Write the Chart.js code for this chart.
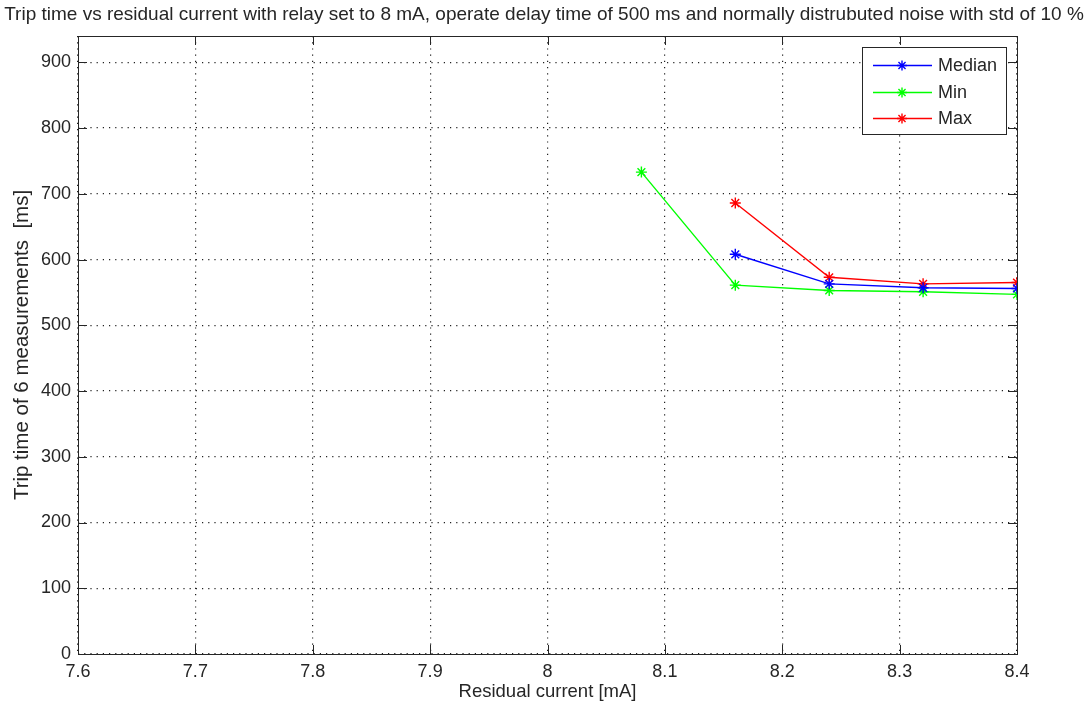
<!DOCTYPE html>
<html>
<head>
<meta charset="utf-8">
<script src="https://cdn.jsdelivr.net/npm/chart.js@4/dist/chart.umd.min.js"></script>
<style>
  html, body { margin: 0; padding: 0; background: #fff; }
  #wrap { width: 1088px; height: 706px; }
</style>
</head>
<body>
<div id="wrap"><canvas id="tripChart"></canvas></div>
<script>
// ── data ──
const currents = [8.08, 8.16, 8.24, 8.32, 8.4];          // residual current [mA]
const medianMs = [null, 608, 563, 557, 556];
const minMs    = [733, 561, 553, 551, 547];
const maxMs    = [null, 686, 573, 563, 565];
const seriesNames  = ["Median", "Min", "Max"];
const seriesColors = ["#0000ff", "#00ff00", "#ff0000"];

const xMin = 7.6, xMax = 8.4, xStep = 0.1;
const yMin = 0, yMax = 940, yStep = 100;

const titleText = "Trip time vs residual current with relay set to 8 mA, operate delay time of 500 ms and normally distrubuted noise with std of 10 %";
const FONT = "'Liberation Sans', Arial, sans-serif";
const INK  = "#262626";

const toPts = arr => currents.map((x, i) => ({ x, y: arr[i] })).filter(p => p.y !== null);

const datasets = [medianMs, minMs, maxMs].map((arr, i) => ({
  label: seriesNames[i],
  data: toPts(arr),
  borderColor: seriesColors[i],
  backgroundColor: seriesColors[i],
  borderWidth: 1.4,
  pointStyle: "star",
  pointRadius: 5.5,
  pointBorderWidth: 1.4,
  pointHoverRadius: 5.5,
  tension: 0
}));

// title, frame, inward ticks and boxed legend (MATLAB look)
const matlabAxes = {
  id: "matlabAxes",
  afterDraw(chart) {
    const { ctx, chartArea: a, scales } = chart;
    const tl = 9;
    ctx.save();

    // title centred on the whole figure, like MATLAB does
    ctx.fillStyle = INK;
    ctx.font = "19px " + FONT;
    ctx.textAlign = "center";
    ctx.textBaseline = "middle";
    ctx.fillText(titleText, chart.width / 2, 15);

    ctx.strokeStyle = INK;
    ctx.lineWidth = 1;
    ctx.beginPath();
    scales.x.ticks.forEach(t => {
      const px = Math.round(scales.x.getPixelForValue(t.value)) + 0.5;
      ctx.moveTo(px, a.bottom); ctx.lineTo(px, a.bottom - tl);
      ctx.moveTo(px, a.top);    ctx.lineTo(px, a.top + tl);
    });
    scales.y.ticks.forEach(t => {
      const py = Math.round(scales.y.getPixelForValue(t.value)) + 0.5;
      ctx.moveTo(a.left, py);  ctx.lineTo(a.left + tl, py);
      ctx.moveTo(a.right, py); ctx.lineTo(a.right - tl, py);
    });
    ctx.stroke();
    ctx.strokeRect(Math.round(a.left) + 0.5, Math.round(a.top) + 0.5,
                   Math.round(a.right - a.left), Math.round(a.bottom - a.top));

    // legend box
    const bx = a.right - 155, by = a.top + 11, bw = 144, bh = 87;
    ctx.fillStyle = "#fff";
    ctx.fillRect(bx, by, bw, bh);
    ctx.strokeRect(Math.round(bx) + 0.5, Math.round(by) + 0.5, bw, bh);
    ctx.font = "18px " + FONT;
    ctx.textBaseline = "middle";
    ctx.textAlign = "left";
    chart.data.datasets.forEach((ds, i) => {
      const y = Math.round(by + 18 + i * 26.5) + 0.5;
      ctx.strokeStyle = ds.borderColor;
      ctx.lineWidth = 1.4;
      ctx.beginPath();
      ctx.moveTo(bx + 11, y);
      ctx.lineTo(bx + 70, y);
      ctx.stroke();
      Chart.helpers.drawPoint(ctx, { pointStyle: "star", radius: 5, borderWidth: 1.4 }, bx + 40, y);
      ctx.fillStyle = INK;
      ctx.fillText(ds.label, bx + 76, y + 1);
    });
    ctx.restore();
  }
};

new Chart(document.getElementById("tripChart"), {
  type: "line",
  data: { datasets },
  plugins: [matlabAxes],
  options: {
    responsive: true,
    maintainAspectRatio: false,
    animation: false,
    layout: { padding: { top: 36, right: 71, bottom: 0, left: 0 } },
    plugins: {
      legend: { display: false },
      tooltip: { enabled: false },
      title: { display: false }
    },
    scales: {
      x: {
        type: "linear",
        min: xMin, max: xMax,
        afterFit: s => { s.height = 52; },
        ticks: {
          stepSize: xStep,
          color: INK,
          padding: 7,
          maxRotation: 0,
          font: { family: FONT, size: 18 },
          callback: v => String(Number(v.toFixed(1)))
        },
        grid: { color: "#222", lineWidth: 1.2, drawTicks: false },
        border: { display: false, dash: [1.2, 5] },
        title: {
          display: true,
          text: "Residual current [mA]",
          color: INK,
          font: { family: FONT, size: 18.5 },
          padding: { top: 0, bottom: 3 }
        }
      },
      y: {
        type: "linear",
        min: yMin, max: yMax,
        afterFit: s => { s.width = 78; },
        ticks: {
          stepSize: yStep,
          includeBounds: false,
          color: INK,
          padding: 7,
          font: { family: FONT, size: 18 }
        },
        grid: { color: "#222", lineWidth: 1.2, drawTicks: false },
        border: { display: false, dash: [1.2, 5] },
        title: {
          display: true,
          text: "Trip time of 6 measurements  [ms]",
          color: INK,
          font: { family: FONT, size: 20.5 },
          padding: { top: 10, bottom: 0 }
        }
      }
    }
  }
});
</script>
</body>
</html>
